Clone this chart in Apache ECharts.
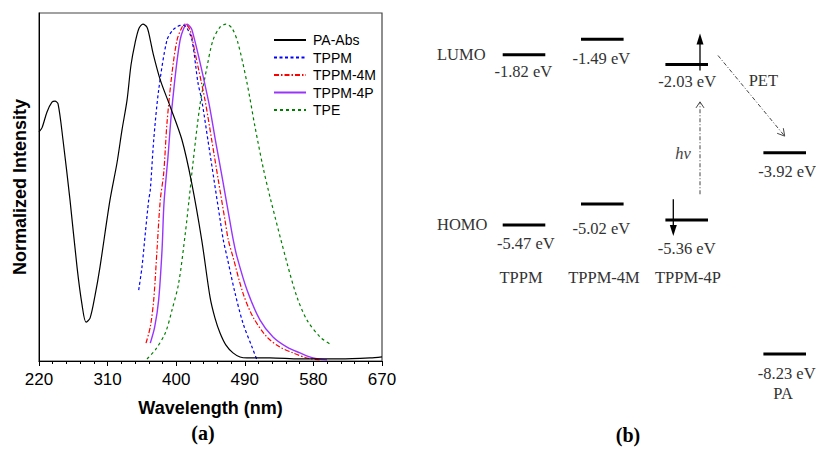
<!DOCTYPE html>
<html><head><meta charset="utf-8">
<script src="https://cdn.jsdelivr.net/npm/echarts@6/dist/echarts.min.js"></script>
<style>html,body{margin:0;padding:0;background:#fff}#c{width:816px;height:450px}</style>
</head><body><div id="c"></div>
<script>
// ---------- data: panel (a) ----------
const xTickMin = 220, xTickMax = 670, xTickStep = 90;
const seriesNames = ['PA-Abs', 'TPPM', 'TPPM-4M', 'TPPM-4P', 'TPE'];
const paAbs = [[220,0.678],[223.9,0.690],[230.5,0.737],[237,0.766],[241,0.769],[245,0.761],[251.5,0.654],[260.7,0.476],[269.9,0.278],[276.5,0.166],[281.7,0.115],[287,0.127],[293.6,0.195],[300,0.278],[313.1,0.476],[322.3,0.586],[328.9,0.684],[335.5,0.772],[340.7,0.876],[346,0.941],[351.2,0.985],[356.4,0.997],[361.7,0.988],[366,0.950],[369.6,0.911],[379.1,0.832],[392.3,0.752],[407.6,0.654],[420.3,0.527],[433.5,0.358],[444.4,0.189],[450.9,0.127],[457.5,0.083],[465.3,0.047],[474.5,0.024],[483.7,0.012],[492.9,0.009],[523,0.009],[562.4,0.006],[615,0.006],[654.3,0.009],[670,0.012]];
const tppm = [[350.8,0.210],[355.1,0.278],[359.5,0.379],[363.9,0.476],[366,0.506],[370.5,0.654],[377,0.802],[387.9,0.950],[395.8,0.980],[402.4,0.991],[408.9,0.994],[414.2,0.985],[420.7,0.950],[428.6,0.823],[433.5,0.772],[441.6,0.654],[449.6,0.536],[457.7,0.417],[461.8,0.358],[466.7,0.308],[477.2,0.201],[487.6,0.112],[499.5,0.041],[506,0.003]];
const tppm4m = [[360.4,0.053],[366,0.101],[370.5,0.181],[374.8,0.328],[379.1,0.476],[383.6,0.556],[387.9,0.704],[394.5,0.852],[401.1,0.950],[407.6,0.988],[411.6,0.997],[418.1,0.980],[424.7,0.912],[437.8,0.772],[446.6,0.654],[455.2,0.536],[464,0.417],[468.4,0.358],[474.5,0.308],[487.6,0.201],[500.8,0.130],[519.1,0.071],[536.2,0.041],[553.2,0.024],[571.6,0.009],[588.7,0.003]];
const tppm4p = [[366,0.053],[371.8,0.101],[377,0.181],[381.4,0.328],[384,0.468],[389.2,0.604],[394.5,0.752],[405.1,0.950],[414.2,0.997],[420.7,0.980],[442.1,0.772],[451.4,0.654],[460.9,0.536],[470.2,0.417],[474.9,0.358],[479.8,0.308],[492.9,0.210],[510,0.121],[527,0.071],[545.4,0.041],[562.4,0.024],[579.5,0.009],[597.9,0.003]];
const tpe = [[361.7,0.006],[372.6,0.033],[385.7,0.083],[394.5,0.151],[403.3,0.231],[412,0.379],[416.8,0.476],[422,0.586],[431.2,0.758],[440.4,0.870],[448.3,0.950],[457.5,0.988],[465.3,0.997],[473.2,0.985],[481.1,0.941],[492.9,0.823],[503.4,0.693],[513.9,0.574],[523.1,0.485],[545.4,0.290],[558.5,0.189],[571.6,0.121],[588.7,0.071],[601.8,0.050]];

// ---------- data: panel (b) ----------
const molecules = ['TPPM', 'TPPM-4M', 'TPPM-4P', 'PA'];
const lumo = [-1.82, -1.49, -2.03, -3.92];
const homo = [-5.47, -5.02, -5.36, -8.23];

// ---------- layout (not data) ----------
const COL_X = [524, 602.3, 686.7, 784.7];
const HALF = 21.3;
const LABEL_OFF = { lumo: [[-0.7,17],[-1,19],[0.5,17.4],[2.5,18.4]], homo: [[1.8,18],[-1,24],[0,28.6],[2,19.3]] };
const SERIF = '"Liberation Serif", "DejaVu Serif", serif';
const SANS = '"Liberation Sans", Arial, sans-serif';

const lineStyles = [
  { color: '#000000', width: 1.2, type: 'solid' },
  { color: '#0000ff', width: 1.2, type: [3, 2.5] },
  { color: '#ff0000', width: 1.2, type: [5, 2, 1.5, 2] },
  { color: '#9933ff', width: 1.4, type: 'solid' },
  { color: '#008000', width: 1.2, type: [3, 3] }
];
const seriesData = [paAbs, tppm, tppm4m, tppm4p, tpe];

const lineSeries = seriesNames.map((n, i) => ({
  name: n, type: 'line', xAxisIndex: 0, yAxisIndex: 0,
  data: seriesData[i], smooth: 0.3, symbol: 'none', showSymbol: false,
  lineStyle: lineStyles[i], itemStyle: { color: lineStyles[i].color },
  z: 5 - i, silent: true
}));

const levelData = [];
molecules.forEach((m, i) => { levelData.push([i, lumo[i], 0]); levelData.push([i, homo[i], 1]); });

function arrowHead(tip, from, len, halfW) {
  const dx = tip[0] - from[0], dy = tip[1] - from[1];
  const d = Math.hypot(dx, dy), ux = dx / d, uy = dy / d;
  const bx = tip[0] - ux * len, by = tip[1] - uy * len;
  return [[bx - uy * halfW, by + ux * halfW], tip, [bx + uy * halfW, by - ux * halfW]];
}

const levelSeries = {
  type: 'custom', name: 'levels', xAxisIndex: 1, yAxisIndex: 1, silent: true,
  data: levelData,
  renderItem(params, api) {
    const i = api.value(0), e = api.value(1), k = api.value(2);
    const p1 = api.coord([COL_X[i] - HALF, e]);
    const p2 = api.coord([COL_X[i] + HALF, e]);
    const off = (k === 0 ? LABEL_OFF.lumo : LABEL_OFF.homo)[i];
    return { type: 'group', children: [
      { type: 'line', shape: { x1: p1[0], y1: p1[1], x2: p2[0], y2: p2[1] }, style: { stroke: '#000', lineWidth: 3 } },
      { type: 'text', style: { text: e.toFixed(2) + ' eV', x: (p1[0] + p2[0]) / 2 + off[0], y: p1[1] + off[1],
        align: 'center', verticalAlign: 'middle', font: '16.5px ' + SERIF, fill: '#333' } }
    ] };
  }
};

const arrowSeries = {
  type: 'custom', name: 'arrows', xAxisIndex: 1, yAxisIndex: 1, silent: true,
  data: [[0]],
  renderItem(params, api) {
    const c = 2, pa = 3;
    const ax = COL_X[c] + 13.3, bx = COL_X[c] - 13.4;
    const L = api.coord([ax, lumo[c]]);
    const H = api.coord([bx, homo[c]]);
    const Hh = api.coord([ax, homo[c]]);
    const Lr = api.coord([COL_X[c] + HALF, lumo[c]]);
    const P = api.coord([COL_X[pa], lumo[pa]]);
    const dash = { stroke: '#444', lineWidth: 1, lineDash: [4, 2, 1, 2] };
    const upFrom = [L[0], L[1] + 6], upTip = [L[0], L[1] - 31];
    const downFrom = [H[0], H[1] - 20.7], downTip = [H[0], H[1] + 16];
    const hvFrom = [Hh[0], Hh[1] - 25.7], hvTip = [L[0], L[1] + 37.4];
    const petFrom = [Lr[0] + 10, Lr[1] - 9], petTip = [P[0], P[1] - 16.6];
    return { type: 'group', children: [
      { type: 'line', shape: { x1: upFrom[0], y1: upFrom[1], x2: upTip[0], y2: upTip[1] + 8 }, style: { stroke: '#000', lineWidth: 1.3 } },
      { type: 'polygon', shape: { points: arrowHead(upTip, upFrom, 11, 3.5) }, style: { fill: '#000' } },
      { type: 'line', shape: { x1: downFrom[0], y1: downFrom[1], x2: downTip[0], y2: downTip[1] - 8 }, style: { stroke: '#000', lineWidth: 1.3 } },
      { type: 'polygon', shape: { points: arrowHead(downTip, downFrom, 11, 3.5) }, style: { fill: '#000' } },
      { type: 'line', shape: { x1: hvFrom[0], y1: hvFrom[1], x2: hvTip[0], y2: hvTip[1] }, style: dash },
      { type: 'polyline', shape: { points: arrowHead(hvTip, hvFrom, 6, 4) }, style: { stroke: '#444', lineWidth: 1, fill: null } },
      { type: 'line', shape: { x1: petFrom[0], y1: petFrom[1], x2: petTip[0], y2: petTip[1] }, style: dash },
      { type: 'polyline', shape: { points: arrowHead(petTip, petFrom, 7, 4) }, style: { stroke: '#444', lineWidth: 1, fill: null } },
      { type: 'text', style: { text: 'hv', x: hvFrom[0] - 17, y: (hvFrom[1] + hvTip[1]) / 2 + 5, align: 'center', verticalAlign: 'middle', font: 'italic 16.5px ' + SERIF, fill: '#444' } },
      { type: 'text', style: { text: 'PET', x: (petFrom[0] + petTip[0]) / 2 + 12, y: petFrom[1] + 25, align: 'center', verticalAlign: 'middle', font: '16.5px ' + SERIF, fill: '#333' } }
    ] };
  }
};

const chart = echarts.init(document.getElementById('c'), null, { renderer: 'svg' });
chart.setOption({
  animation: false,
  backgroundColor: '#fff',
  grid: [
    { left: 39, top: 13, width: 343, height: 348, show: true, borderColor: '#444', borderWidth: 1.2, backgroundColor: 'transparent' },
    { left: 420, top: 16.4, width: 396, bottom: 13.4, show: false }
  ],
  xAxis: [
    { type: 'value', gridIndex: 0, min: xTickMin, max: xTickMax, interval: xTickStep,
      name: 'Wavelength (nm)', nameLocation: 'middle', nameGap: 38,
      nameTextStyle: { fontFamily: SANS, fontWeight: 'bold', fontSize: 18, color: '#000' },
      axisLine: { onZero: false, lineStyle: { color: '#000', width: 1 } },
      axisTick: { show: true, length: 5, inside: false, lineStyle: { color: '#000' } },
      minorTick: { show: true, splitNumber: 5, length: 3, lineStyle: { color: '#000' } },
      axisLabel: { fontFamily: SANS, fontSize: 17, color: '#000', margin: 10, showMinLabel: true, showMaxLabel: true },
      splitLine: { show: false } },
    { type: 'value', gridIndex: 1, min: 420, max: 816, show: false }
  ],
  yAxis: [
    { type: 'value', gridIndex: 0, min: 0, max: 1.03,
      name: 'Normalized Intensity', nameLocation: 'middle', nameGap: 10, nameRotate: 90,
      nameTextStyle: { fontFamily: SANS, fontWeight: 'bold', fontSize: 18, color: '#000' },
      axisLine: { show: true, lineStyle: { color: '#000' } },
      axisTick: { show: false }, axisLabel: { show: false }, splitLine: { show: false } },
    { type: 'value', gridIndex: 1, min: -10, max: -1, show: false }
  ],
  legend: {
    data: seriesNames, orient: 'vertical', left: 273, top: 33,
    itemWidth: 32, itemHeight: 14, itemGap: 3.5, padding: 0,
    itemStyle: { opacity: 0, borderWidth: 0 },
    textStyle: { fontFamily: SANS, fontSize: 14, color: '#000', padding: [0, 0, 0, 2] },
    selectedMode: false
  },
  graphic: [
    { type: 'text', left: 437, top: 46, style: { text: 'LUMO', font: '16.5px ' + SERIF, fill: '#333' } },
    { type: 'text', left: 437, top: 216, style: { text: 'HOMO', font: '16.5px ' + SERIF, fill: '#333' } },
    { type: 'text', x: 521, y: 277, style: { text: molecules[0], align: 'center', verticalAlign: 'middle', font: '16.5px ' + SERIF, fill: '#333' } },
    { type: 'text', x: 604, y: 277, style: { text: molecules[1], align: 'center', verticalAlign: 'middle', font: '16.5px ' + SERIF, fill: '#333' } },
    { type: 'text', x: 688, y: 277, style: { text: molecules[2], align: 'center', verticalAlign: 'middle', font: '16.5px ' + SERIF, fill: '#333' } },
    { type: 'text', x: 783, y: 393, style: { text: molecules[3], align: 'center', verticalAlign: 'middle', font: '16.5px ' + SERIF, fill: '#333' } },
    { type: 'text', x: 203, y: 433, style: { text: '(a)', align: 'center', verticalAlign: 'middle', font: 'bold 20px ' + SERIF, fill: '#000' } },
    { type: 'text', x: 628, y: 435, style: { text: '(b)', align: 'center', verticalAlign: 'middle', font: 'bold 20px ' + SERIF, fill: '#000' } }
  ],
  series: [...lineSeries, levelSeries, arrowSeries]
});
</script>
</body></html>
